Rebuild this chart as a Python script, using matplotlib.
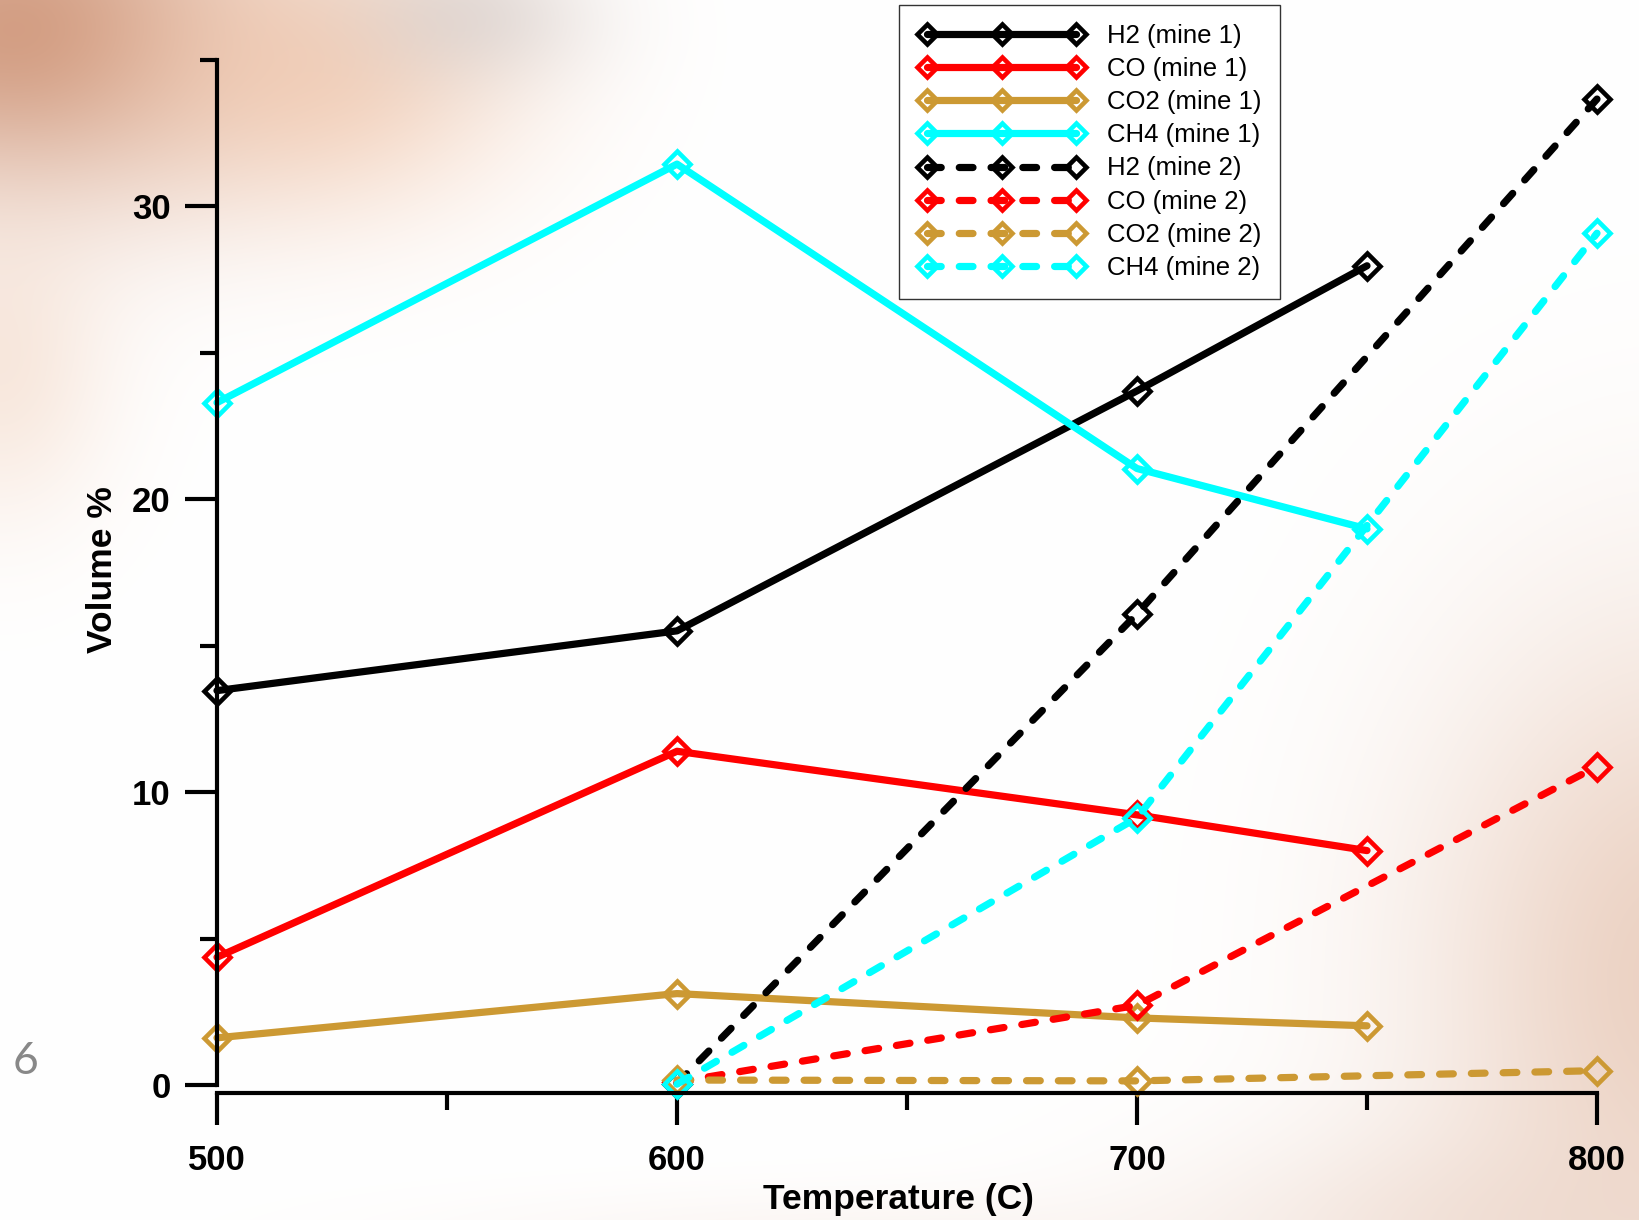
import numpy as np
import matplotlib
matplotlib.use("Agg")
import matplotlib.pyplot as plt
from matplotlib.lines import Line2D
from matplotlib.legend_handler import HandlerLine2D

# ---------------- data ----------------
temps_mine1 = [500, 600, 700, 750]
h2_mine1 = [13.46, 15.5, 23.69, 27.96]
co_mine1 = [4.36, 11.39, 9.22, 8.0]
co2_mine1 = [1.61, 3.12, 2.29, 2.02]
ch4_mine1 = [23.29, 31.43, 21.04, 18.98]

temps_mine2 = [600, 700, 800]
h2_mine2 = [0.05, 16.08, 33.65]
co_mine2 = [0.1, 2.72, 10.87]
co2_mine2 = [0.17, 0.14, 0.49]
ch4_mine2 = [0.03, 9.12, 29.07]

labels = ["H2 (mine 1)", "CO (mine 1)", "CO2 (mine 1)", "CH4 (mine 1)",
          "H2 (mine 2)", "CO (mine 2)", "CO2 (mine 2)", "CH4 (mine 2)"]
colors = ["#000000", "#FF0000", "#CC9933", "#00FFFF"]

x_ticks = [500, 600, 700, 800]
y_ticks = [0, 10, 20, 30]

# ---------------- figure ----------------
W, H = 1640, 1220
DPI = 100
fig = plt.figure(figsize=(W / DPI, H / DPI), dpi=DPI)
plt.rcParams['font.family'] = ['Liberation Sans', 'DejaVu Sans']

# decorative blurred background (slide backdrop)
yy, xx = np.mgrid[0:H, 0:W].astype(float)
img = np.ones((H, W, 3))

def blob(cx, cy, rx, ry, col, a):
    global img
    w = a * np.exp(-((xx - cx) / rx) ** 2 - ((yy - cy) / ry) ** 2)
    c = np.array(col) / 255.0
    img = img * (1 - w[..., None]) + c * w[..., None]

blob(20, 30, 250, 170, (195, 125, 90), 0.75)
blob(330, 70, 190, 140, (240, 190, 158), 0.6)
blob(470, 15, 120, 70, (205, 200, 200), 0.5)
blob(0, 370, 110, 150, (240, 205, 182), 0.45)
blob(1680, 980, 260, 360, (225, 185, 162), 0.65)
blob(1500, 1240, 320, 110, (232, 205, 190), 0.5)
blob(850, 1240, 420, 50, (246, 232, 225), 0.4)

bg = fig.add_axes([0, 0, 1, 1], zorder=-10)
bg.imshow(img, aspect='auto', extent=(0, W, H, 0))
bg.set_axis_off()

left, right = 217 / W, 1597 / W
bottom, top = 1 - 1085 / H, 1 - 59.5 / H
ax = fig.add_axes([left, bottom, right - left, top - bottom])
ax.patch.set_alpha(0)

lw = 5.2
ms = 13.5
mew = 3.3
dash = (0, (1.9, 2.5))

series1 = [h2_mine1, co_mine1, co2_mine1, ch4_mine1]
series2 = [h2_mine2, co_mine2, co2_mine2, ch4_mine2]
handles = []
for vals, c, lab in zip(series1, colors, labels[:4]):
    ln, = ax.plot(temps_mine1, vals, color=c, lw=lw, marker='D', ms=ms, mew=mew,
                  mfc='none', mec=c, label=lab, clip_on=False,
                  solid_capstyle='round', solid_joinstyle='round')
    handles.append(ln)
for vals, c, lab in zip(series2, colors, labels[4:]):
    ln, = ax.plot(temps_mine2, vals, color=c, lw=lw, ls=dash, marker='D', ms=ms, mew=mew,
                  mfc='none', mec=c, label=lab, clip_on=False,
                  dash_capstyle='round', dash_joinstyle='round')
    handles.append(ln)

ax.set_xlim(500, 800)
ax.set_ylim(0, 35)
for s in ['top', 'right']:
    ax.spines[s].set_visible(False)
ax.spines['left'].set_linewidth(3.0)
ax.spines['bottom'].set_linewidth(3.0)
ax.spines['bottom'].set_position(('outward', 5.8))

ax.set_xticks(x_ticks)
ax.set_xticks([550, 650, 750], minor=True)
ax.set_yticks(y_ticks)
ax.set_yticks([5, 15, 25, 35], minor=True)
ax.tick_params(which='major', length=23, width=3.0, direction='out')
ax.tick_params(which='minor', length=12, width=3.0, direction='out')
ax.tick_params(axis='x', which='major', pad=13.5)
ax.tick_params(axis='y', which='major', pad=10.5)
for t in ax.get_xticklabels() + ax.get_yticklabels():
    t.set_fontsize(25)
    t.set_fontweight('bold')

ax.set_xlabel("Temperature (C)", fontsize=25.5, fontweight='bold', va='center')
ax.xaxis.set_label_coords(898 / W, 1 - 1199 / H, transform=fig.transFigure)
ax.set_ylabel("Volume %", fontsize=25.5, fontweight='bold', va='center', ha='center')
ax.yaxis.set_label_coords(103 / W, 1 - 570 / H, transform=fig.transFigure)

leg = ax.legend(handles=handles, labels=labels, loc='upper left',
                bbox_to_anchor=(899 / W, 1 - 5 / H), bbox_transform=fig.transFigure,
                borderaxespad=0, fontsize=18.5, frameon=True, fancybox=False,
                edgecolor='#333333', framealpha=1, facecolor='white',
                borderpad=0.72, labelspacing=0.36, handlelength=6.56,
                handletextpad=0.82, markerscale=0.72,
                handler_map={Line2D: HandlerLine2D(numpoints=3, marker_pad=0.38)})
leg.get_frame().set_linewidth(1.0)

fig.text(26 / W, 1 - 1062 / H, "6", ha='center', va='center', color='#888888',
         fontsize=32, family=['Lato', 'DejaVu Sans'])

fig.savefig("out.png", dpi=DPI)
